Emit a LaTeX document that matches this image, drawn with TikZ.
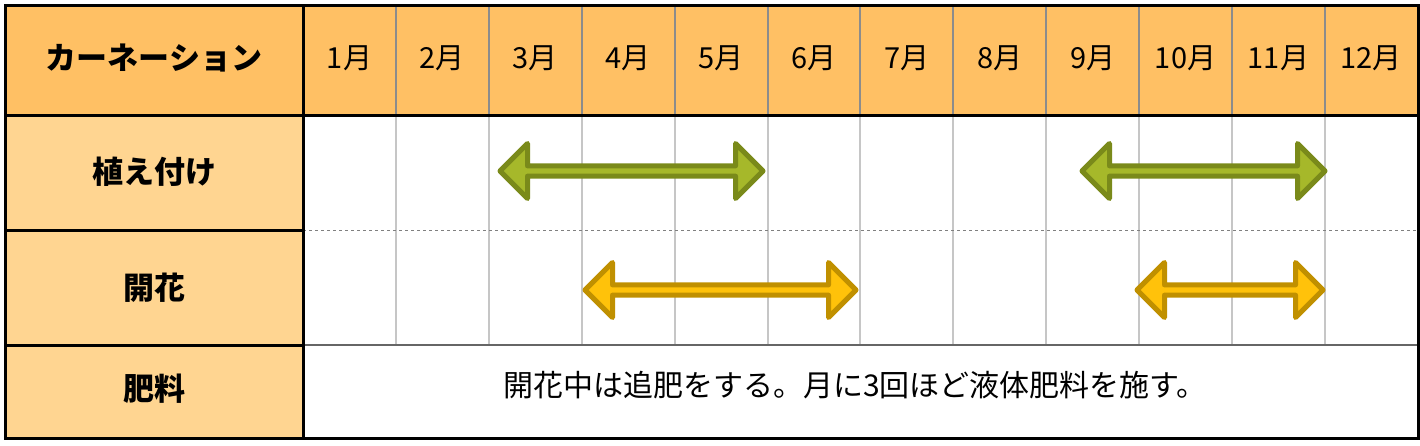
\documentclass[tikz,border=0pt]{standalone}
\usepackage{fontspec}
\setmainfont{Noto Sans CJK JP}
\usetikzlibrary{shapes.arrows}
\definecolor{headorange}{HTML}{FFC064}
\definecolor{roworange}{HTML}{FFD591}
\definecolor{leafgreen}{HTML}{A6B82A}
\definecolor{leafdark}{HTML}{7A8A1A}
\definecolor{bloomyellow}{HTML}{FFC20A}
\definecolor{bloomdark}{HTML}{C09000}
\tikzset{
  dblarrow/.style={double arrow, double arrow head extend=11pt, minimum width=55pt,
    inner sep=0pt, line width=5pt, line join=round, anchor=center},
  plantarrow/.style={dblarrow, fill=leafgreen, draw=leafdark},
  bloomarrow/.style={dblarrow, fill=bloomyellow, draw=bloomdark},
  headtxt/.style={font=\fontsize{29}{34}\selectfont},
  rowtxt/.style={font=\bfseries\fontsize{31}{36}\selectfont}
}
\begin{document}
\begin{tikzpicture}[x=1pt,y=-1pt]
  \useasboundingbox (0,0) rectangle (1420,445);
  % fills
  \fill[headorange] (5,5) rectangle (1418,115);
  \fill[roworange] (5,115) rectangle (303,438);
  % grid
  \foreach \i in {1,...,11}
    \draw[gray!45, line width=2pt] ({303+\i*92.9},115) -- ({303+\i*92.9},345);
  \foreach \i in {1,...,11}
    \draw[gray!90, line width=2pt] ({303+\i*92.9},5) -- ({303+\i*92.9},115);
  \draw[gray, dashed, line width=0.8pt] (303,230) -- (1418,230);
  \draw[gray!80!black, line width=2pt] (303,345) -- (1418,345);
  \draw[line width=3pt] (5,115) -- (1418,115);
  \draw[line width=3pt] (5,230) -- (303,230);
  \draw[line width=3pt] (5,345) -- (303,345);
  \draw[line width=3pt] (303,5) -- (303,438);
  \draw[line width=3pt] (5,5) rectangle (1418,438);
  % header
  \node[rowtxt] (title) at (154,58) {カーネーション};
  \foreach \m in {1,...,12}
    \node[headtxt] (m\m) at ({303+(\m-0.5)*92.9},58) {\m 月};
  % row labels
  \node[rowtxt] (plant) at (154,172) {植え付け};
  \node[rowtxt] (bloom) at (154,288) {開花};
  \node[rowtxt] (feed) at (154,389) {肥料};
  % arrows
  \node[plantarrow, minimum height=263pt] (p1) at (631.5,171) {};
  \node[plantarrow, minimum height=243pt] (p2) at (1203.5,171) {};
  \node[bloomarrow, minimum height=271pt] (b1) at (720.5,290) {};
  \node[bloomarrow, minimum height=186pt] (b2) at (1230,290) {};
  % note
  \node[font=\fontsize{30}{36}\selectfont] (note) at (855,385) {開花中は追肥をする。月に3回ほど液体肥料を施す。};
\end{tikzpicture}
\end{document}
